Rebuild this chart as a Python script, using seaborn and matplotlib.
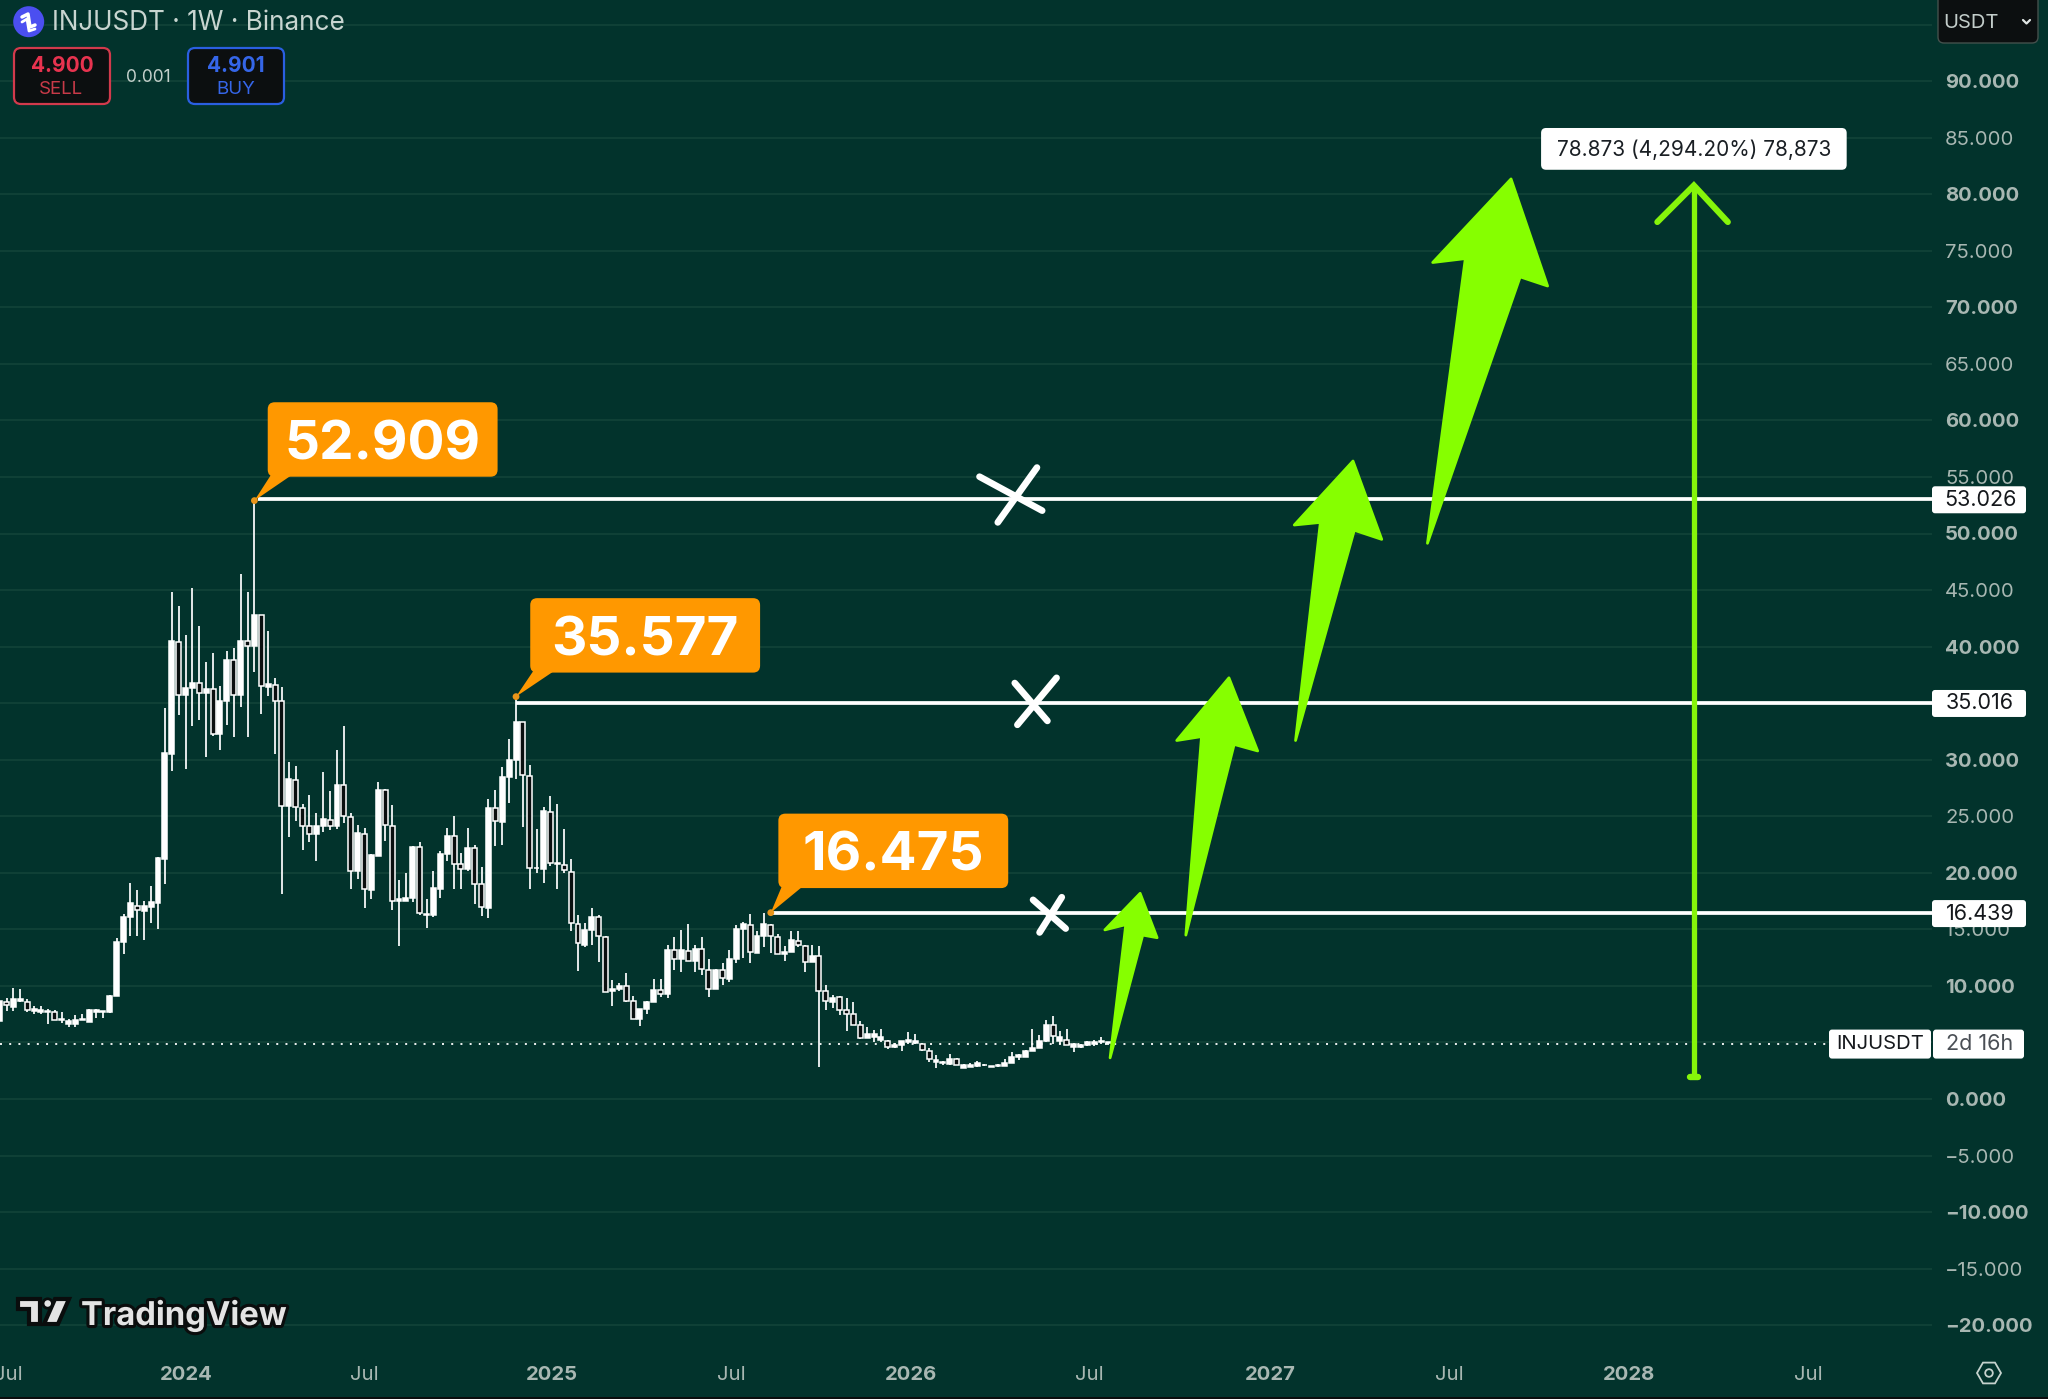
import numpy as np
import pandas as pd
import matplotlib
matplotlib.use("Agg")
import matplotlib.pyplot as plt
import matplotlib.patheffects as pe
from matplotlib.patches import FancyBboxPatch, Polygon, Circle, Rectangle
import seaborn as sns

# ---------------- data (weekly candles, prices) ----------------
highs = [8.7,8.9,9.8,9.7,8.8,8.2,8.2,8.0,7.85,7.7,7.05,7.45,7.55,8.0,8.0,7.8,9.2,14.2,
 16.4,19.1,18.5,17.5,18.85,21.4,34.6,44.8,43.6,41.05,45.2,41.85,38.6,39.4,36.5,39.6,39.9,46.45,44.85,52.909,
 42.75,41.4,37.2,36.4,29.8,29.4,26.1,26.9,25.25,28.9,27.2,30.9,33,25.25,24.25,24,21.7,28.05,27.45,26,19.35,19.95,22.4,22.7,
 17.65,20.2,21.9,24,25,21.75,23.95,22.45,20.5,26.5,27.3,29.35,31.85,35.577,33.3,29.5,23.9,25.85,26.75,26.05,23.85,21.25,
 16.3,15.6,16.85,16.3,14.4,10.5,10.3,11.15,9.15,8,8.65,10.65,10.65,13.6,14.35,14.95,15.5,13.65,14.35,12.4,11.5,12,13.2,15.35,15.65,16.35,14.85,16.475,
 15.45,14.55,13.5,14.85,14.85,13.65,13.6,13.55,
 10.1,9.2,9.1,8.95,8.55,6.9,6.4,6.1,6.2,5.2,4.95,5.15,5.95,5.75,4.95,4.5,3.85,3.4,4,3.65,3.1,3.2,3.4,3.1,2.95,3.1,3.5,4.15,3.95,4.35,6.15,5.7,7,7.35,6,6.15,4.95,4.9,5.1,5.2,5.5,5.05]
lows = [6.9,7.8,7.8,8.55,7.7,7.5,7.55,6.6,6.95,6.7,6.35,6.4,6.95,6.85,7.2,7.2,7.6,9.15,
 12.8,14.45,14.45,14.05,15.6,15,19,29,33.95,29.15,33,33.55,30.25,32.1,30.9,33.1,32,34.7,32,37.75,
 34,35.65,30.5,18.1,23.15,24.6,22,22.75,21.05,23.65,23.8,23.85,24.4,18.6,19.45,16.85,17.65,21.5,22.85,16.75,13.5,17.5,17.4,16.3,
 15.1,16.1,17.75,21,18.55,18.6,20.15,17.2,16.15,16,22.35,22.45,26.2,28.25,24.05,18.6,20,19.1,20.6,18.6,19.95,14.85,
 11.3,13.4,13.65,12.1,9.45,8.2,9.55,8.55,7.05,6.45,7.55,8.55,9.05,8.95,11.45,11.2,12.2,11.2,11,9,9.7,10.05,10.35,12,12.5,12,12.9,13.45,
 12.9,12.8,12.2,13,13.4,11.2,12.1,2.8,
 7.85,8.05,7.45,6.05,6.5,5.3,5.35,5,5,4.45,4.5,4.2,4.9,4.9,4.2,3.25,2.75,3,3.05,3,2.75,2.8,2.85,2.9,2.8,2.8,2.9,3.2,3.45,3.75,4.2,4.55,5.05,4.85,4.85,4.75,4.15,4.5,4.7,4.7,4.9,4.8]
body_tops = [8.7,8.55,8.8,8.8,8.6,7.95,7.9,7.8,7.65,7.1,6.9,7.0,7.1,7.9,7.85,7.8,9.15,13.9,
 16.05,17.3,17.1,17.05,17.4,21.3,30.6,40.5,40.45,36.3,36.8,36.75,36.25,36.25,35.15,38.8,38.8,40.5,40.5,42.75,
 42.75,36.65,36.6,35.15,28.25,28.2,25.7,24.15,24.1,24.75,24.7,27.75,27.75,24.95,23.5,23.4,21.6,27.35,27.3,24.1,17.65,17.75,22.3,22.3,
 16.4,18.7,21.7,23.25,23.25,20.75,22.2,22.2,19.05,25.75,25.75,28.45,30,33.3,33.3,28.55,20.45,25.45,25.4,20.9,20.65,20.05,
 15.5,14.95,16.1,16.1,14.35,9.7,10,9.95,8.65,7.95,8.55,9.6,9.6,13.2,13.15,13.15,13.05,13.3,13.3,11.45,11.45,11.45,12.4,15,15.45,15.4,14.4,15.45,
 15.4,14.3,13,14.05,14,13.55,12.65,12.6,
 9.55,8.95,9.05,7.85,7.55,6.5,5.75,5.75,5.45,5.1,4.8,5.15,5.2,5.15,4.9,4.2,3.45,3.3,3.5,3.5,3,3.05,3.15,3.05,2.95,3,3.2,3.7,3.85,4.2,4.55,5.1,6.5,6.5,5.5,5.2,4.85,4.8,5,5.05,5.15,5.05]
body_bots = [6.9,8.3,8.1,8.65,7.85,7.8,7.7,7.7,6.95,6.95,6.6,6.6,7.0,6.85,7.7,7.7,7.7,9.15,
 13.9,16.1,16.75,16.65,17.0,17.35,21.2,30.5,35.75,35.75,36.35,35.9,35.9,32.3,32.25,35.15,35.75,35.75,40.05,40.05,
 36.5,36.4,35.2,25.95,25.95,25.8,24.15,23.4,23.4,24.1,24.15,24.1,25.05,20.2,20.2,18.6,18.5,21.5,24.25,17.55,17.5,17.55,17.75,16.45,
 16.25,16.25,18.6,21.7,20.8,20.35,20.3,19.05,17,16.9,24.55,24.5,28.45,30,28.65,20.4,20.4,20.35,20.9,20.75,20.25,15.6,
 13.75,13.65,14.95,14.4,9.45,9.55,9.7,8.7,7.1,7.1,8,8.55,9.3,9.3,12.4,12.4,12.2,12.2,11.5,9.75,9.7,10.7,10.6,12.4,15,13,12.9,14.4,
 14.4,12.8,12.8,13,13.6,12.1,12.1,9.55,
 8.65,8.55,7.9,7.55,6.55,5.4,5.35,5.5,5.2,4.6,4.6,4.75,5.0,4.95,4.3,3.5,3.25,3.2,3.1,3.05,2.75,2.85,2.95,3,2.85,2.9,2.95,3.2,3.7,3.75,4.2,4.55,5.1,5.55,5.15,4.8,4.6,4.6,4.8,4.85,5,4.93]
is_down = [0,1,0,0,1,0,0,0,1,0,0,0,0,0,0,0,0,0,
 0,0,1,0,0,0,0,0,1,0,0,1,0,1,0,0,1,0,1,0,
 1,0,1,1,0,1,1,1,0,0,1,0,1,1,0,1,0,0,1,1,0,0,0,1,
 0,0,0,0,1,1,0,1,1,0,1,0,0,0,1,1,0,0,1,0,1,1,
 1,0,0,1,1,0,0,1,1,0,0,0,1,0,1,0,1,0,1,1,0,1,0,0,0,1,0,0,
 1,1,0,0,1,1,0,1,
 1,0,1,1,1,1,0,0,0,1,0,0,0,0,1,1,0,0,0,1,0,0,0,0,0,0,0,0,0,0,0,0,0,1,0,1,0,0,0,0,0,0]

last_price = 4.9
levels = [53.026, 35.016, 16.439]
level_start_weeks = [37.5, 75, 112]
level_labels = ["53.026", "35.016", "16.439"]
peak_values = [52.909, 35.577, 16.475]
peak_labels = ["52.909", "35.577", "16.475"]
peak_weeks = [37, 75, 112]

grid_prices = list(range(95, -25, -5))
bold_prices = set(range(90, -30, -10))
x_tick_weeks = [1.2, 27.1, 53, 80.2, 106.3, 132.3, 158.3, 184.5, 210.5, 236.6, 262.7]
x_tick_labels = ["Jul", "2024", "Jul", "2025", "Jul", "2026", "Jul", "2027", "Jul", "2028", "Jul"]

# ---------------- style ----------------
BG = "#02332c"
GRID = "#124339"
AXTXT = "#a8b7b2"
GREEN = "#86ff00"
ORANGE = "#ff9800"
WHITE = "#ffffff"
sns.set_theme(style="dark", rc={"figure.facecolor": BG, "axes.facecolor": BG})
plt.rcParams["font.family"] = ["Inter", "DejaVu Sans"]

W, H = 2048, 1399
fig = plt.figure(figsize=(W / 100, H / 100), dpi=100, facecolor=BG)
AX_R, AX_B = 1932, 1345
ax = fig.add_axes([0, 1 - AX_B / H, AX_R / W, AX_B / H])

PX_PER_WEEK = 6.885
PX_PER_UNIT = 11.31
ZERO_PX = 1099
WEEK0 = 0.05
ax.set_xlim(WEEK0, WEEK0 + AX_R / PX_PER_WEEK)
ax.set_ylim((ZERO_PX - AX_B) / PX_PER_UNIT, ZERO_PX / PX_PER_UNIT)

df = pd.DataFrame({"week": np.arange(len(highs)), "high": highs, "low": lows,
                   "top": body_tops, "bot": body_bots, "down": is_down})
wicks = df.melt(id_vars="week", value_vars=["high", "low"], value_name="price")
sns.lineplot(data=wicks, x="week", y="price", units="week", estimator=None, color=WHITE,
             linewidth=1.25, ax=ax, legend=False, zorder=3, solid_capstyle="butt")
ax.bar(df["week"], df["top"] - df["bot"], bottom=df["bot"], width=0.72,
       color=["#0a0f0f" if d else WHITE for d in df["down"]],
       edgecolor=WHITE, linewidth=1.1, zorder=4)

# axes furniture
ax.set_xlabel("")
ax.set_ylabel("")
ax.yaxis.tick_right()
ax.set_yticks(grid_prices)
ax.set_yticklabels(["" if p == 95 else f"{p:.3f}".replace("-", "\u2212") for p in grid_prices],
                   color=AXTXT, fontsize=14.6)
for lab, p in zip(ax.get_yticklabels(), grid_prices):
    lab.set_fontweight("bold" if p in bold_prices else "normal")
ax.set_xticks(x_tick_weeks)
ax.set_xticklabels(x_tick_labels, color=AXTXT, fontsize=14.6)
for lab, t in zip(ax.get_xticklabels(), x_tick_labels):
    lab.set_fontweight("bold" if t.isdigit() else "normal")
ax.tick_params(axis="y", length=0, pad=9.5)
ax.tick_params(axis="x", length=0, pad=15)
ax.grid(axis="y", color=GRID, linewidth=1.2, zorder=0)
ax.grid(axis="x", visible=False)
for s in ax.spines.values():
    s.set_visible(False)

# price levels and last price
for lv, wk in zip(levels, level_start_weeks):
    ax.plot([wk, ax.get_xlim()[1]], [lv, lv], color=WHITE, lw=2.7, zorder=5, solid_capstyle="butt")
ax.axhline(last_price, color=WHITE, lw=1.3, ls=(0, (1.1, 4)), zorder=2)

# ---------------- overlay in figure pixels ----------------
ov = fig.add_axes([0, 0, 1, 1], facecolor="none")
ov.set_xlim(0, W)
ov.set_ylim(H, 0)
ov.axis("off")
S = 1.306  # reference display to full size


def box(x0, y0, x1, y1, fc, ec="none", r=5, lw=0, z=6):
    ov.add_patch(FancyBboxPatch((x0 + r, y0 + r), x1 - x0 - 2 * r, y1 - y0 - 2 * r,
                                boxstyle=f"round,pad={r},rounding_size={r}", fc=fc, ec=ec, lw=lw,
                                zorder=z, mutation_aspect=1))


def week_px(w):
    return (w - WEEK0) * PX_PER_WEEK


def price_px(p):
    return ZERO_PX - p * PX_PER_UNIT


# orange callouts
call_boxes = [(205, 308), (406, 458), (596, 623)]
for (bx, by), val, wk, pv in zip(call_boxes, peak_labels, peak_weeks, peak_values):
    x0, y0, x1, y1 = bx * S, by * S, (bx + 176) * S, (by + 57) * S
    box(x0, y0, x1, y1, ORANGE, r=7)
    px, py = week_px(wk), price_px(pv)
    ov.add_patch(Polygon([[px, py], [x0 + 4, y1 - 3], [x0 + 26, y1 - 3]], fc=ORANGE, ec="none", zorder=6))
    ov.add_patch(Circle((px, py), 3.4, fc="#e8951a", ec="none", zorder=7))
    ov.text((x0 + x1) / 2, (y0 + y1) / 2 + 6, val, color="white", fontsize=39.5, fontweight="bold",
            ha="center", va="center", zorder=8)

# crosses on the levels
crosses = [((764, 400), (794, 358)), ((750, 365), (798, 391)),
           ((779, 555), (809, 519)), ((777, 523), (802, 552)),
           ((796, 714), (813, 687)), ((791, 689), (816, 711))]
for a, b in crosses:
    ov.plot([a[0] * S, b[0] * S], [a[1] * S, b[1] * S], color="white", lw=4.8, solid_capstyle="round", zorder=7)

# green arrows
arrows = [
    [(850, 810), (862, 708), (846, 712), (873, 684), (886, 718), (875, 716)],
    [(908, 716), (920, 564), (901, 567), (941, 519), (963, 575), (945, 570)],
    [(992, 567), (1011, 400), (991, 402), (1036, 353), (1058, 413), (1037, 406)],
    [(1093, 416), (1122, 198), (1097, 201), (1157, 137), (1185, 219), (1164, 212)],
]
for pts in arrows:
    ov.add_patch(Polygon([[x * S, y * S] for x, y in pts], closed=True, fc=GREEN, ec=GREEN, lw=2,
                         joinstyle="round", zorder=9))

# measuring arrow
LX = 1297 * S
ov.plot([LX, LX], [824 * S, 142 * S], color="#86f50a", lw=3.8, zorder=9, solid_capstyle="butt")
ov.plot([1269 * S, LX, 1323 * S], [170 * S, 142 * S, 170 * S], color="#86f50a", lw=4.4, zorder=9,
        solid_joinstyle="miter", solid_capstyle="round")
ov.plot([LX - 4, LX + 4], [825 * S, 825 * S], color="#86f50a", lw=4.6, zorder=9, solid_capstyle="round")
box(1180 * S, 98 * S, 1414 * S, 130 * S, "white", r=5, z=10)
ov.text(1297 * S, 114.5 * S, "78.873 (4,294.20%) 78,873", color="#1a1f24", fontsize=15, ha="center",
        va="center", zorder=11)

# right-hand price tags
for lv, t in zip(levels, level_labels):
    y = price_px(lv)
    box(1932, y - 13, 2026, y + 14, "white", r=3, z=10)
    ov.text(1980, y + 0.5, t, color="#15181c", fontsize=15.5, ha="center", va="center", zorder=11)
y = price_px(last_price)
box(1829, y - 14, 1931, y + 15, "white", r=3, z=10)
box(1933, y - 14, 2024, y + 15, "white", r=3, z=10)
ov.text(1880, y + 0.5, "INJUSDT", color="#15181c", fontsize=14.6, ha="center", va="center", zorder=11)
ov.text(1980, y + 0.5, "2d 16h", color="#4a4f55", fontsize=15.5, ha="center", va="center", zorder=11)

# header
ov.add_patch(Circle((28.7, 21.7), 15.5, fc="#4b4ff0", ec="none", zorder=10))
ov.plot([22, 28, 30, 35], [17, 14, 27, 25], color="white", lw=2.5, zorder=11, solid_capstyle="round")
ov.plot([22, 27, 29, 35], [22, 19, 31, 29], color="white", lw=2.0, zorder=11, solid_capstyle="round")
ov.text(52, 23, "INJUSDT \u00b7 1W \u00b7 Binance", color="#c8d5d0", fontsize=18.8, va="center", zorder=11)
box(14, 48, 110, 104, "#0c0f10", ec="#d23a4c", r=7, lw=1.6, z=10)
ov.text(62, 66, "4.900", color="#e8334f", fontsize=15, fontweight="bold", ha="center", va="center", zorder=11)
ov.text(61, 90, "SELL", color="#c83a48", fontsize=13.5, ha="center", va="center", zorder=11)
ov.text(148, 77, "0.001", color="#c3d0cb", fontsize=12.5, ha="center", va="center", zorder=11)
box(188, 48, 284, 104, "#0c0f10", ec="#2a5fe0", r=7, lw=1.6, z=10)
ov.text(236, 66, "4.901", color="#3566e8", fontsize=15, fontweight="bold", ha="center", va="center", zorder=11)
ov.text(236, 90, "BUY", color="#3566e8", fontsize=13.5, ha="center", va="center", zorder=11)

# currency button
box(1938, -6, 2038, 43, "#0c0f10", ec="#44504c", r=6, lw=1, z=10)
ov.text(1971, 23, "USDT", color="#c3cdca", fontsize=14.5, ha="center", va="center", zorder=11)
ov.plot([2023, 2026.5, 2030], [20, 23.5, 20], color="#e0e6e4", lw=1.6, zorder=11)

# watermark
shadow = "#0a0d0d"
logo_shapes = [
    [(18, 1299), (40, 1299), (40, 1324), (29, 1324), (29, 1309), (18, 1309)],
    [(55, 1299), (69, 1299), (58, 1324), (44, 1324)],
]
for pts in logo_shapes:
    ov.add_patch(Polygon(pts, closed=True, fc="#e4e4e4", ec=shadow, lw=3, zorder=10))
ov.add_patch(Circle((47.7, 1303.5), 4.7, fc="#e4e4e4", ec=shadow, lw=2, zorder=10))
ov.text(81, 1325, "TradingView", color="#e4e4e4", fontsize=23.6, fontweight="bold", ha="left", va="baseline",
        zorder=11, path_effects=[pe.withStroke(linewidth=4.5, foreground=shadow)])

# settings glyph
hexa = [(1989 + 12 * np.cos(a), 1373 + 12 * np.sin(a)) for a in np.radians(np.arange(0, 360, 60))]
ov.add_patch(Polygon(hexa, closed=True, fc="none", ec="#c5d2cd", lw=1.3, zorder=11))
ov.add_patch(Circle((1989, 1373), 3.8, fc="none", ec="#c5d2cd", lw=1.3, zorder=11))

# bottom edge
ov.add_patch(Rectangle((0, 1397), W, 3, fc="#0a0d0d", ec="none", zorder=12))

fig.savefig("out.png", dpi=100, facecolor=BG)
